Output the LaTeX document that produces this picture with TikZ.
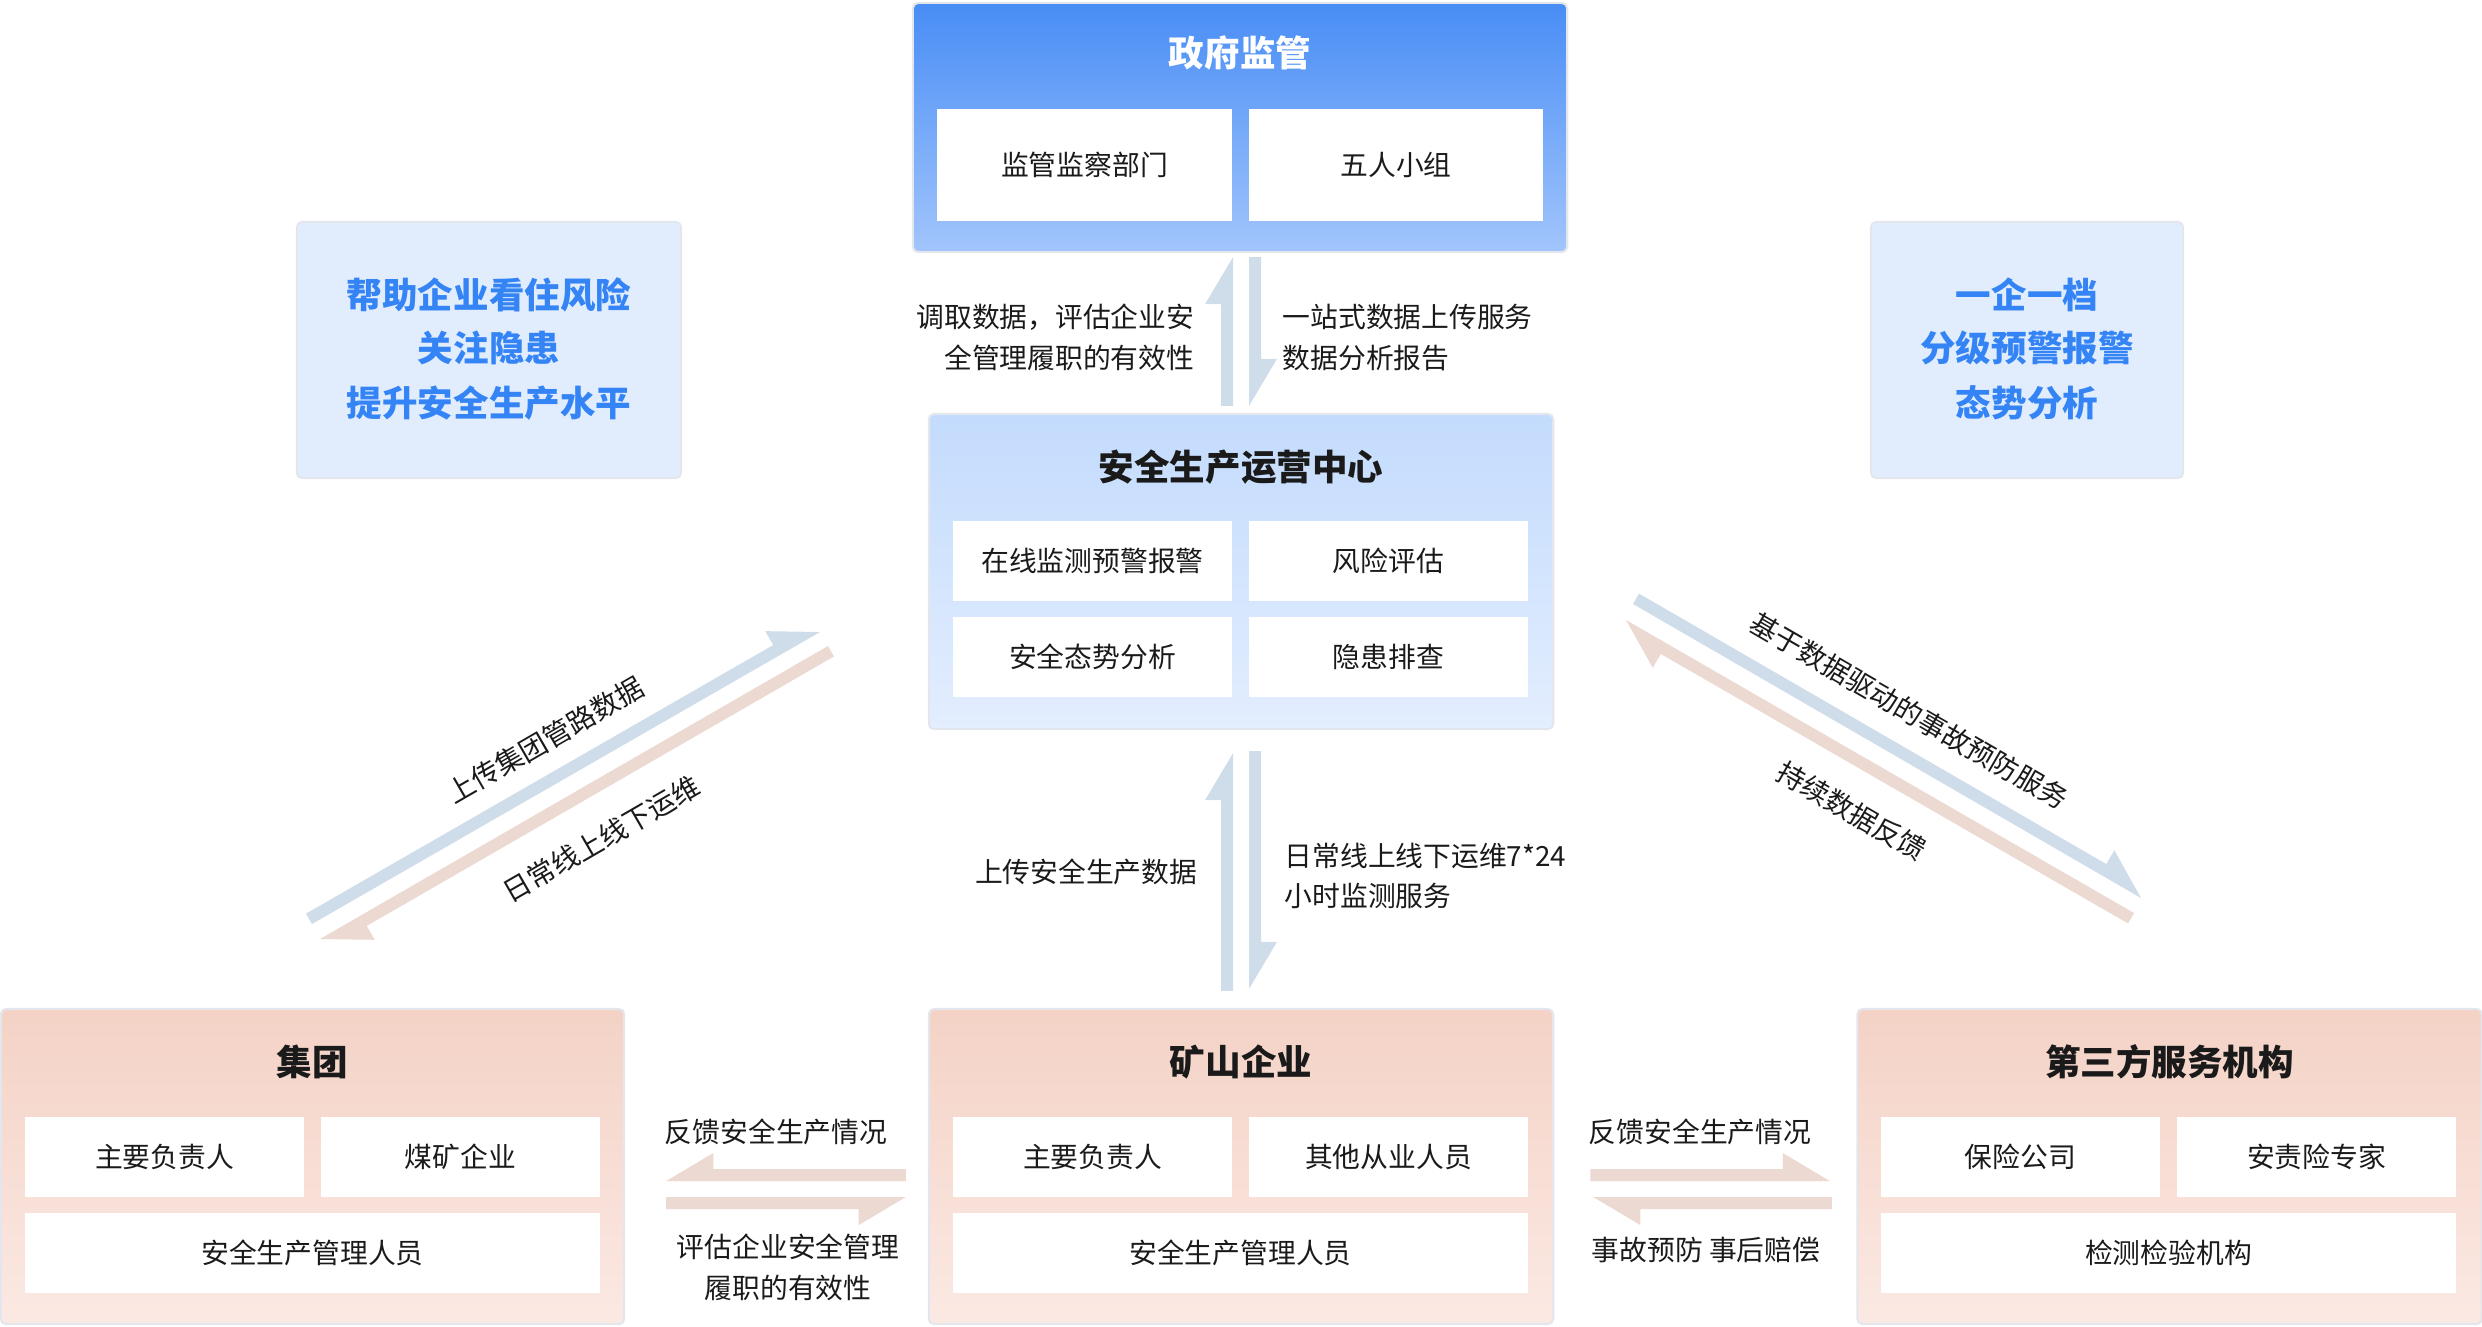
\documentclass[tikz,border=0pt]{standalone}
\usepackage{fontspec}
\setmainfont{Noto Sans CJK SC}
\usetikzlibrary{calc}
\definecolor{govtop}{RGB}{72,141,245}
\definecolor{govbot}{RGB}{162,197,252}
\definecolor{ctrtop}{RGB}{195,219,253}
\definecolor{ctrbot}{RGB}{227,238,254}
\definecolor{enttop}{RGB}{244,210,198}
\definecolor{entbot}{RGB}{251,233,227}
\definecolor{sidefill}{RGB}{225,237,253}
\definecolor{sideblue}{RGB}{52,132,246}
\definecolor{boxline}{RGB}{227,230,236}
\definecolor{arrowblue}{RGB}{207,220,234}
\definecolor{arrowpink}{RGB}{235,217,210}
\definecolor{txt}{RGB}{26,26,26}
% half arrow: tail and tip lie on the inner edge, #4 turns towards the barb
\newcommand{\halfarrow}[4][arrowblue]{%
\coordinate (hb) at ($(#3)!0.47cm!(#2)$);
\fill[#1] (#2) -- (#3) -- ($(hb)!0.28cm!#4:(#3)$) -- ($(hb)!0.12cm!#4:(#3)$) -- ($(#2)!0.12cm!#4:(#3)$) -- cycle;}

\begin{document}
\begin{tikzpicture}[x=0.01cm,y=-0.01cm,line join=round,
outerbox/.style={draw=boxline,line width=0.6pt,rounded corners=1.5pt,inner sep=0pt},
govbox/.style={outerbox,top color=govtop,bottom color=govbot,minimum height=2.49cm},
ctrbox/.style={outerbox,top color=ctrtop,bottom color=ctrbot,minimum width=6.24cm,minimum height=3.15cm},
entbox/.style={outerbox,top color=enttop,bottom color=entbot,minimum width=6.24cm,minimum height=3.15cm},
sidebox/.style={outerbox,fill=sidefill,minimum height=2.56cm},
subbox/.style={fill=white,inner sep=0pt,minimum width=2.79cm,minimum height=0.80cm,text=txt,font=\fontsize{7.9}{9}\selectfont},
boxtitle/.style={text=txt,inner sep=0pt,font=\fontsize{10.1}{12}\selectfont\bfseries},
sidetxt/.style={text=sideblue,inner sep=0pt,font=\fontsize{10.1}{12}\selectfont\bfseries},
lbl/.style={text=txt,inner sep=0pt,font=\fontsize{7.9}{11.6}\selectfont}]
\useasboundingbox (0,0) rectangle (2482,1326);
%% boxes
\node[govbox,minimum width=6.54cm] (gov) at (1240,127.5) {};
\node[boxtitle,text=white] (govt) at (1240,53) {政府监管};
\node[subbox,minimum width=2.95cm,minimum height=1.12cm] (jcbm) at (1084.5,165) {监管监察部门};
\node[subbox,minimum width=2.94cm,minimum height=1.12cm] (wrxz) at (1396,165) {五人小组};
\node[ctrbox] (ctr) at (1241,571.5) {};
\node[boxtitle] (ctrt) at (1241,467) {安全生产运营中心};
\node[subbox] (zxjc) at (1092.5,561) {在线监测预警报警};
\node[subbox] (fxpg) at (1388.5,561) {风险评估};
\node[subbox] (aqts) at (1092.5,657) {安全态势分析};
\node[subbox] (yhpc) at (1388.5,657) {隐患排查};
\node[entbox,minimum width=6.23cm] (grp) at (312.5,1166.5) {};
\node[boxtitle] (grpt) at (312.5,1062) {集团};
\node[subbox] (grpa) at (164.5,1157) {主要负责人};
\node[subbox] (grpb) at (460.5,1157) {煤矿企业};
\node[subbox,minimum width=5.75cm] (grpc) at (312.5,1253) {安全生产管理人员};
\node[entbox] (mine) at (1241,1166.5) {};
\node[boxtitle] (minet) at (1241,1062) {矿山企业};
\node[subbox] (minea) at (1092.5,1157) {主要负责人};
\node[subbox] (mineb) at (1388.5,1157) {其他从业人员};
\node[subbox,minimum width=5.75cm] (minec) at (1240.5,1253) {安全生产管理人员};
\node[entbox] (third) at (2169.5,1166.5) {};
\node[boxtitle] (thirdt) at (2169.5,1062) {第三方服务机构};
\node[subbox] (thirda) at (2020.5,1157) {保险公司};
\node[subbox] (thirdb) at (2316.5,1157) {安责险专家};
\node[subbox,minimum width=5.75cm] (thirdc) at (2168.5,1253) {检测检验机构};
\node[sidebox,minimum width=3.84cm] (sidel) at (489,350) {};
\node[sidetxt] at (489,295) {帮助企业看住风险};
\node[sidetxt] at (489,348) {关注隐患};
\node[sidetxt] at (489,403) {提升安全生产水平};
\node[sidebox,minimum width=3.12cm] (sider) at (2027,350) {};
\node[sidetxt] at (2027,295) {一企一档};
\node[sidetxt] at (2027,348) {分级预警报警};
\node[sidetxt] at (2027,403) {态势分析};
%% vertical arrows
\coordinate (ua) at ($(ctr.north)+(-8,-7)$);
\coordinate (ub) at ($(gov.south)+(-7,4)$);
\coordinate (da) at ($(gov.south)+(9,4)$);
\coordinate (db) at ($(ctr.north)+(8,-7)$);
\halfarrow{ua}{ub}{90}
\halfarrow{da}{db}{90}
\coordinate (la) at ($(mine.north)+(-8,-17)$);
\coordinate (lb) at ($(ctr.south)+(-8,23)$);
\coordinate (lc) at ($(ctr.south)+(8,21)$);
\coordinate (ld) at ($(mine.north)+(8,-19)$);
\halfarrow{la}{lb}{90}
\halfarrow{lc}{ld}{90}
%% horizontal arrows
\coordinate (ha) at ($(mine.west)+(-22,14.5)$);
\coordinate (hb1) at ($(grp.east)+(41,14.5)$);
\coordinate (hc) at ($(grp.east)+(41,30.5)$);
\coordinate (hd) at ($(mine.west)+(-22,30.5)$);
\halfarrow[arrowpink]{ha}{hb1}{-90}
\halfarrow[arrowpink]{hc}{hd}{-90}
\coordinate (ra) at ($(mine.east)+(36,14.5)$);
\coordinate (rb) at ($(third.west)+(-26.5,14.5)$);
\coordinate (rc) at ($(third.west)+(-24.5,30.5)$);
\coordinate (rd) at ($(mine.east)+(39,30.5)$);
\halfarrow[arrowpink]{ra}{rb}{90}
\halfarrow[arrowpink]{rc}{rd}{90}
%% diagonal arrows
\coordinate (gla) at (312,924);
\coordinate (glb) at (820,632);
\coordinate (glc) at (828,646);
\coordinate (gld) at (320,939);
\halfarrow{gla}{glb}{90}
\halfarrow[arrowpink]{glc}{gld}{90}
\coordinate (tha) at (1633,604);
\coordinate (thb) at (2141,898);
\coordinate (thc) at (2134,913);
\coordinate (thd) at (1626,620);
\halfarrow{tha}{thb}{90}
\halfarrow[arrowpink]{thc}{thd}{90}
%% labels
\node[lbl,anchor=east,align=right] (l1) at (1195,337.5) {调取数据，评估企业安\\全管理履职的有效性};
\node[lbl,anchor=west,align=left] (l2) at (1282,337.5) {一站式数据上传服务\\数据分析报告};
\node[lbl,anchor=east] (l3) at (1198,872) {上传安全生产数据};
\node[lbl,anchor=west,align=left] (l4) at (1284,876) {日常线上线下运维7*24\\小时监测服务};
\node[lbl] (l5) at (776,1132) {反馈安全生产情况};
\node[lbl,align=center] (l6) at (788,1267) {评估企业安全管理\\履职的有效性};
\node[lbl] (l7) at (1700,1132) {反馈安全生产情况};
\node[lbl] (l8) at (1706,1250) {事故预防 事后赔偿};
\node[lbl,rotate=30] (l9) at (545,740) {上传集团管路数据};
\node[lbl,rotate=30] (l10) at (601,839) {日常线上线下运维};
\node[lbl,rotate=-30] (l11) at (1909,711) {基于数据驱动的事故预防服务};
\node[lbl,rotate=-30] (l12) at (1852,811) {持续数据反馈};
\end{tikzpicture}
\end{document}
